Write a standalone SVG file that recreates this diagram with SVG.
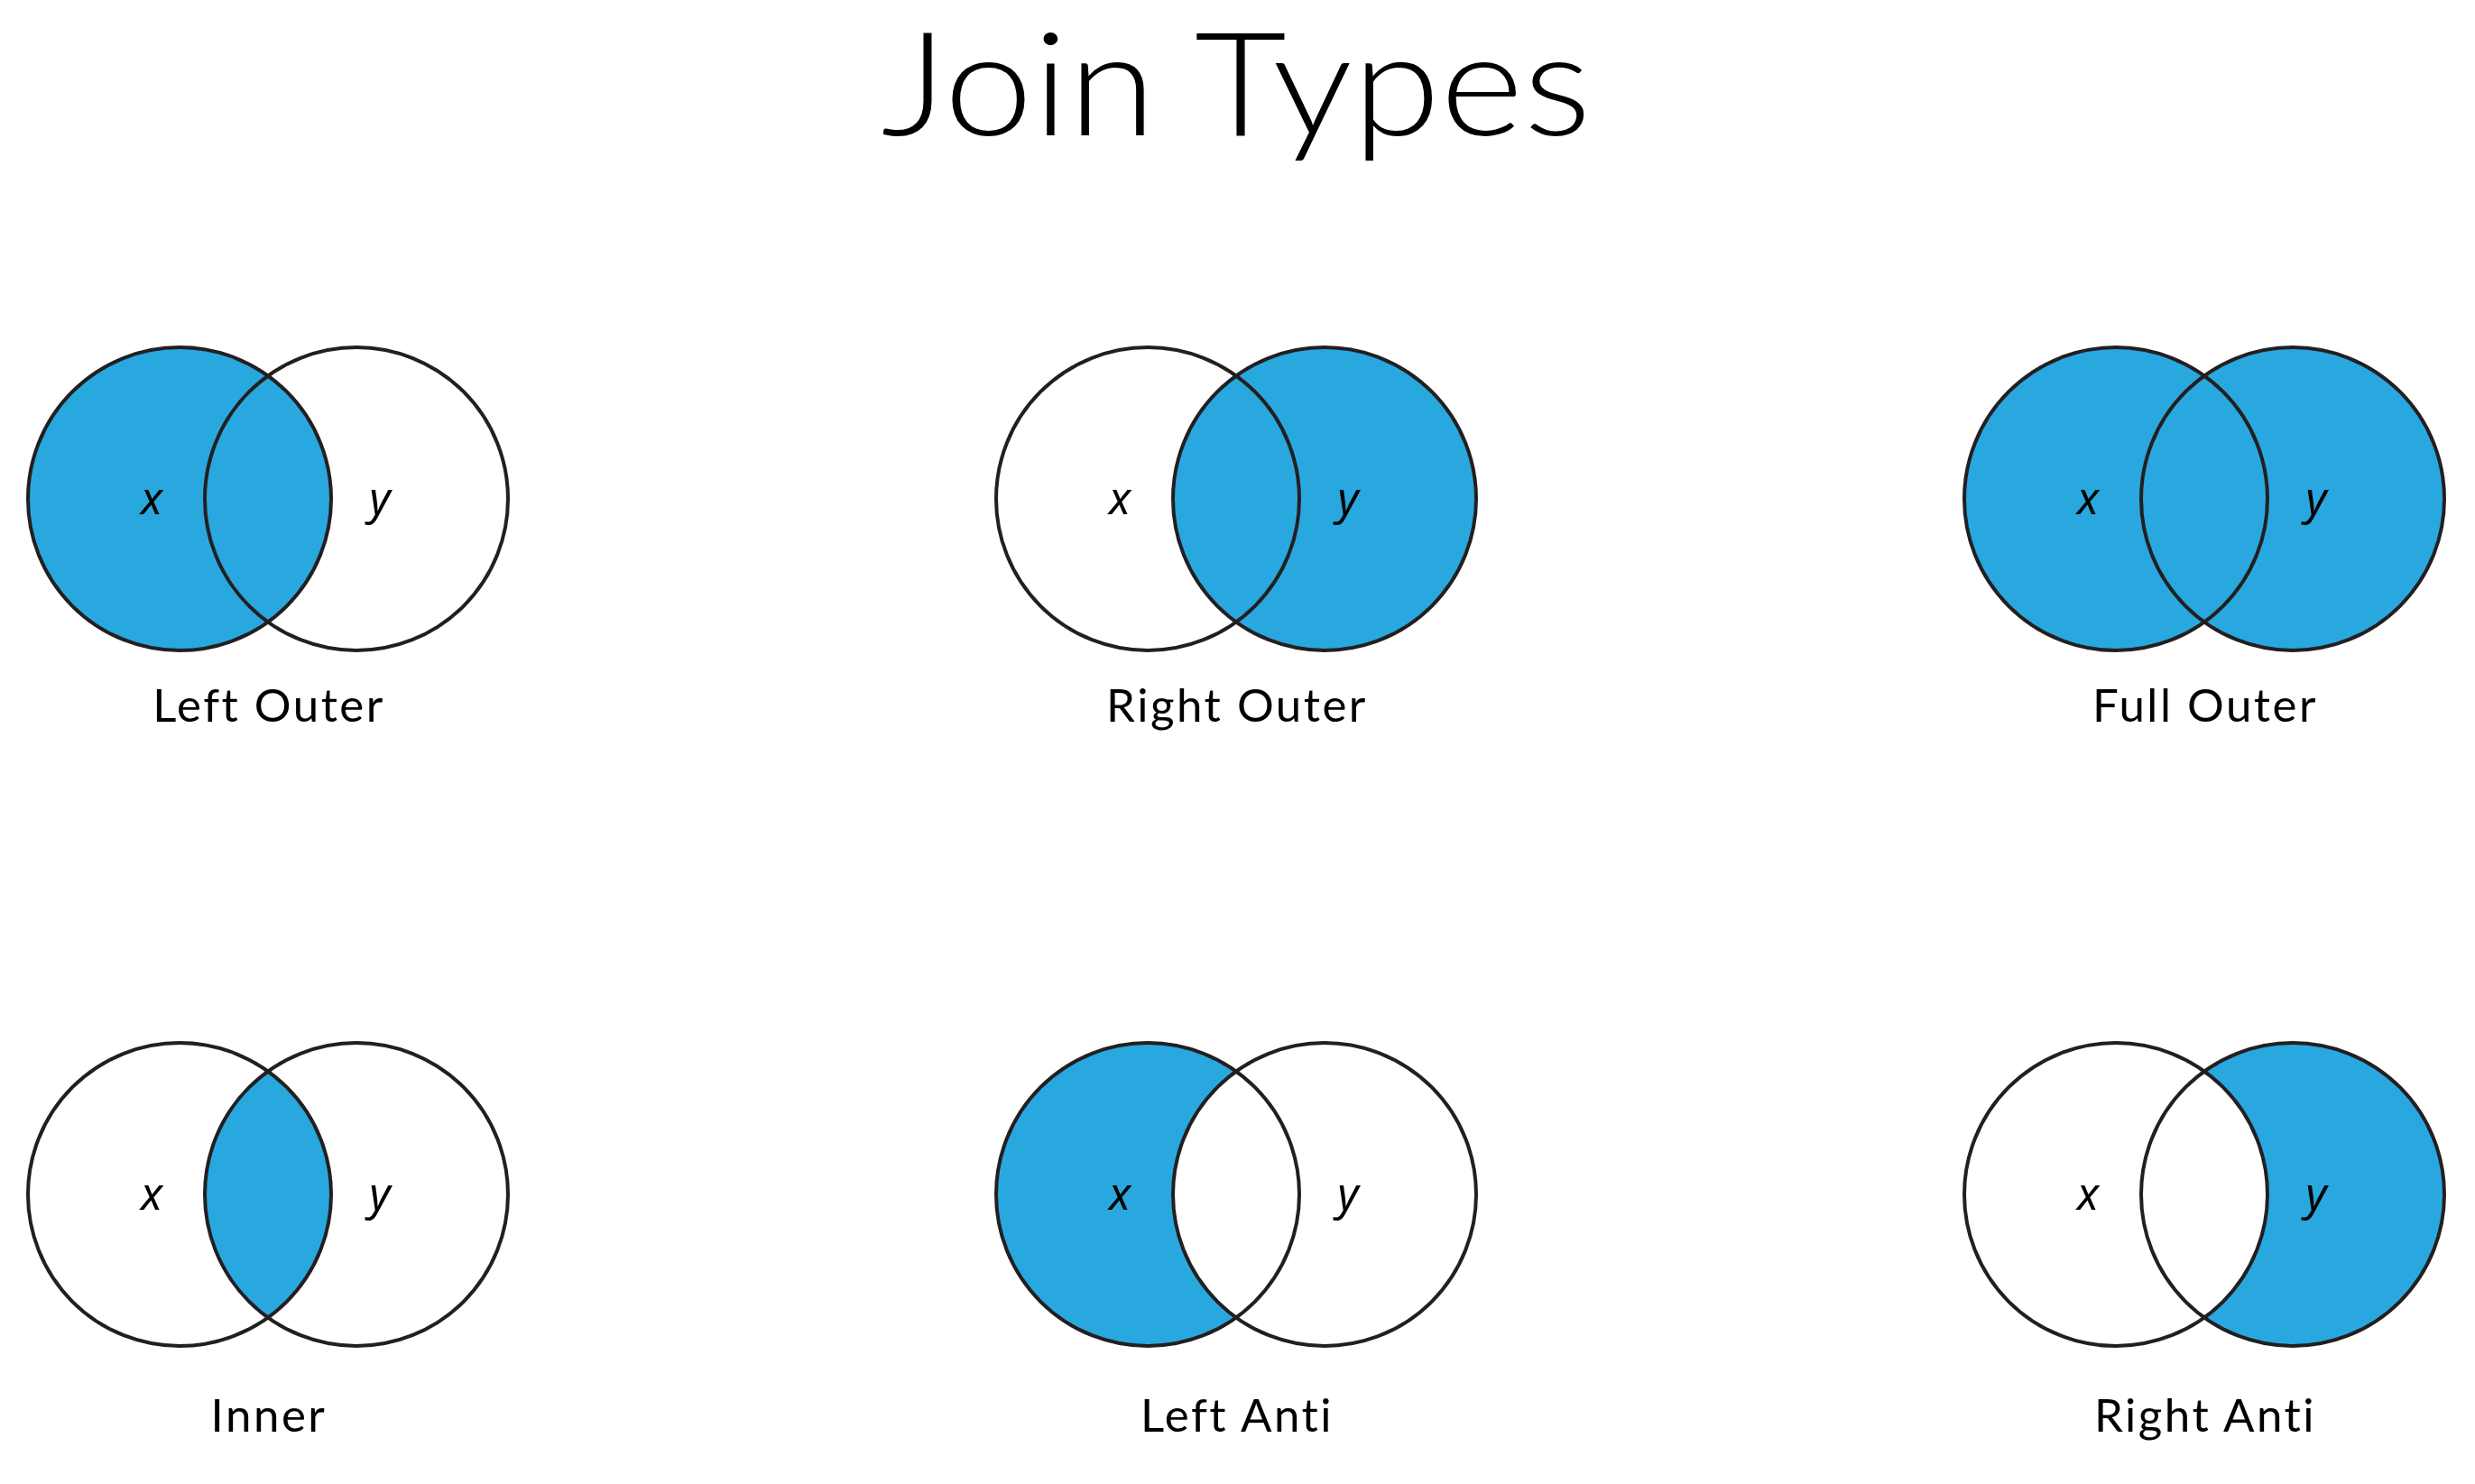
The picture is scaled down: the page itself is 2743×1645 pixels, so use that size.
<svg xmlns="http://www.w3.org/2000/svg" width="2743" height="1645" viewBox="0 0 2743 1645">
<defs>
<style>
.bg{fill:#ffffff}
.c{fill:none;stroke:#231f20;stroke-width:4}
.f{fill:#29a8e0;stroke:none}
.lbl{font-family:Lato,"Noto Sans","Liberation Sans",sans-serif;font-size:51px;letter-spacing:2.5px;fill:#000;text-anchor:middle}
.var{font-family:"Noto Sans","Liberation Sans",sans-serif;font-style:italic;font-size:50px;fill:#000;text-anchor:middle}
.title{font-family:Lato,"Noto Sans","Liberation Sans",sans-serif;font-weight:300;font-size:160px;fill:#000;text-anchor:middle}
</style>
<g id="venn-outline">
<circle class="c" cx="0" cy="0" r="168"/>
<circle class="c" cx="196" cy="0" r="168"/>
<text class="var" x="-31" y="17">x</text>
<text class="var" x="222" y="17">y</text>
</g>
</defs>
<rect class="bg" x="0" y="0" width="2743" height="1645"/>
<text id="title" class="title" x="1370" y="150" textLength="787" lengthAdjust="spacingAndGlyphs">Join Types</text>

<g id="left-outer" transform="translate(199,553)">
<circle class="f" cx="0" cy="0" r="168"/>
<use href="#venn-outline"/>
<text class="lbl" x="99" y="247">Left Outer</text>
</g>

<g id="right-outer" transform="translate(1272,553)">
<circle class="f" cx="196" cy="0" r="168"/>
<use href="#venn-outline"/>
<text class="lbl" x="99" y="247">Right Outer</text>
</g>

<g id="full-outer" transform="translate(2345,553)">
<circle class="f" cx="0" cy="0" r="168"/>
<circle class="f" cx="196" cy="0" r="168"/>
<use href="#venn-outline"/>
<text class="lbl" x="99" y="247">Full Outer</text>
</g>

<g id="inner" transform="translate(199,1324)">
<path class="f" d="M98,-136.5 A168,168 0 0 1 98,136.5 A168,168 0 0 1 98,-136.5 Z"/>
<use href="#venn-outline"/>
<text class="lbl" x="99" y="263">Inner</text>
</g>

<g id="left-anti" transform="translate(1272,1324)">
<path class="f" d="M98,-136.5 A168,168 0 1 0 98,136.5 A168,168 0 0 1 98,-136.5 Z"/>
<use href="#venn-outline"/>
<text class="lbl" x="99" y="263">Left Anti</text>
</g>

<g id="right-anti" transform="translate(2345,1324)">
<path class="f" d="M98,-136.5 A168,168 0 1 1 98,136.5 A168,168 0 0 0 98,-136.5 Z"/>
<use href="#venn-outline"/>
<text class="lbl" x="99" y="263">Right Anti</text>
</g>

<g id="connectors"></g>
</svg>
